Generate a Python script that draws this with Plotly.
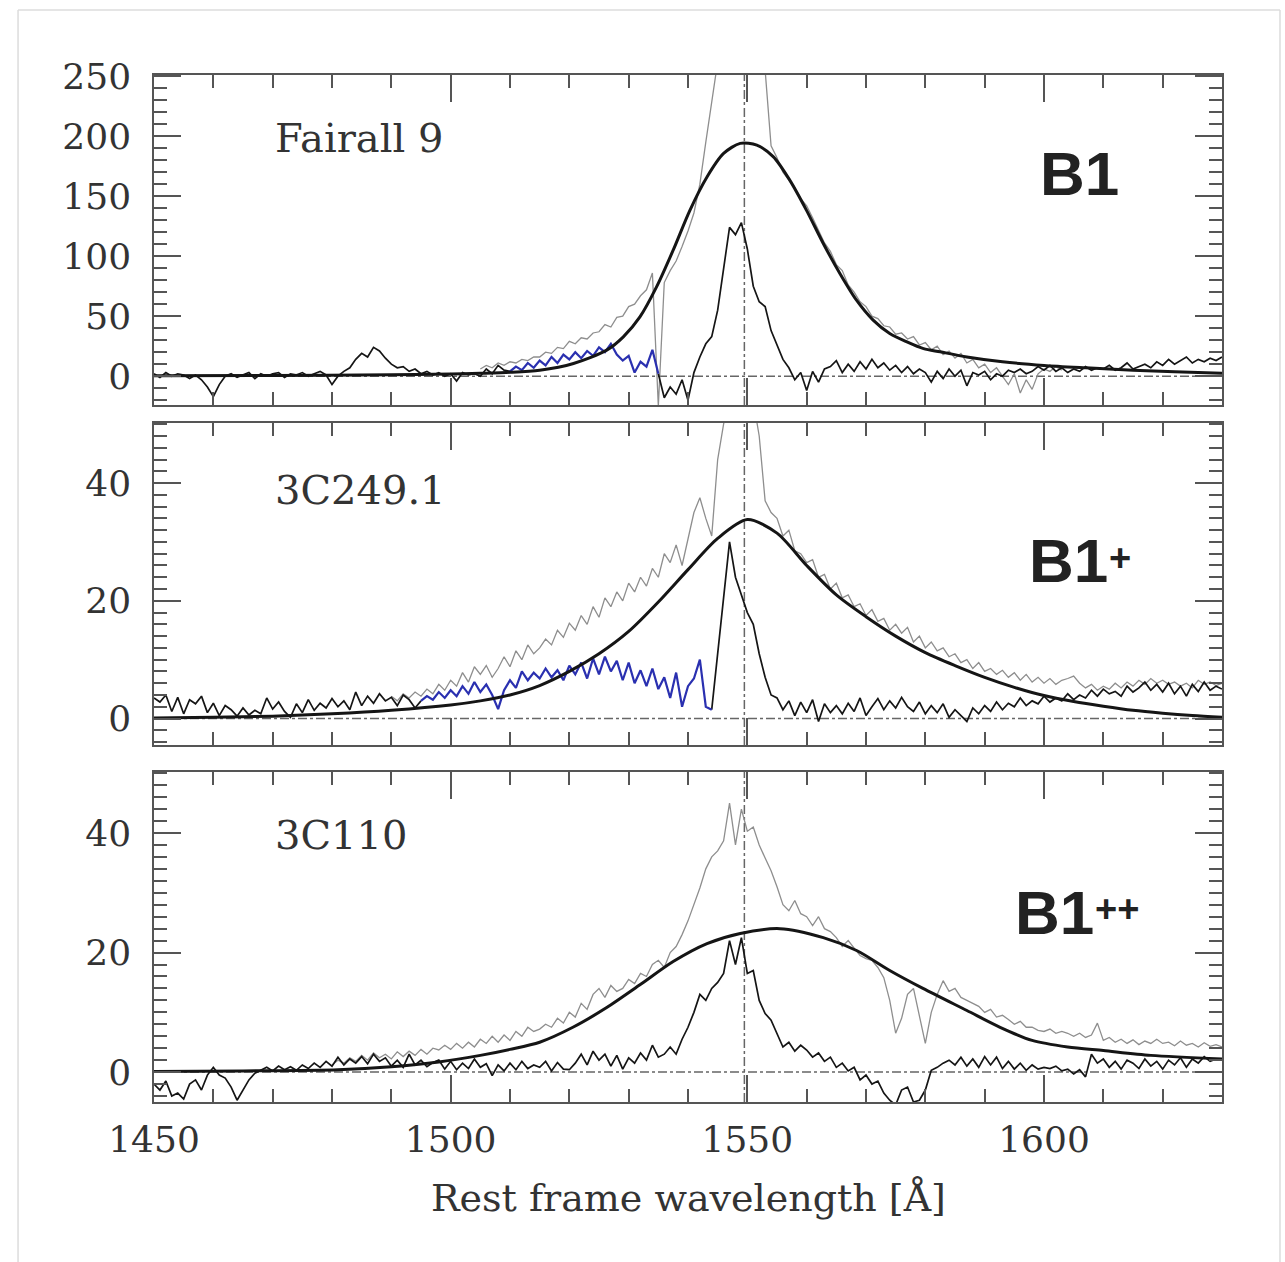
import plotly.graph_objects as go

# ---------------- DATA ----------------
# Panel 1 : Fairall 9  (1-Angstrom grid, start wavelength given)
P1_RES_A_START = 1450
P1_RES_A = [2, -1, 3, 0, 2, 1, -2, 1, -3, -9,          # 1450
            -17, -7, 0, 2, -1, 1, 3, -2, 2, 0,         # 1460
            2, 3, -1, 2, 1, 3, 0, 2, 4, 1,             # 1470
            -7, 0, 4, 7, 14, 19, 16, 24, 21, 15,       # 1480
            10, 7, 8, 4, 6, 2, 4, 1, 3, 0,             # 1490
            2, -4, 3, 1, 2, 0, 6, 2, 9, 5,             # 1500
            4]                                         # 1510
P1_BLUE_START = 1510
P1_BLUE = [4, 8, 5, 11, 7, 13, 9, 16, 11, 18,          # 1510
           14, 20, 15, 21, 17, 24, 20, 27, 18, 13,     # 1520
           17, 3, 12, 8, 22, 2]                        # 1530
P1_RES_B_START = 1535
P1_RES_B = [2, -18, -9, -15, -3, -20, 3, 16, 27, 33,   # 1535
            55, 90, 124, 118, 128, 106, 75, 62, 58, 38,  # 1545
            26, 14, 7, -3, 3, -12, 4, -5, 6, 8,        # 1555
            13, 3, 10, 4, 12, 6, 14, 7, 11, 5,         # 1565
            9, 3, 8, 2, 6, 3, -5, 4, -2, 6,            # 1575
            0, 5, -8, 3, 1, 4, -3, 2, 0, 5,            # 1585
            3, 6, 2, 4, 8, 5, 9, 4, 7, 3,              # 1595
            6, 4, 8, 5, 7, 6, 9, 5, 7, 11,             # 1605
            6, 8, 10, 7, 12, 9, 14, 10, 13, 16,        # 1615
            11, 14, 12, 15, 13, 16]                    # 1625
P1_GRAY_START = 1505
P1_GRAY = [6, 9, 7, 11, 9, 12, 11, 14, 13, 16,         # 1505
           16, 20, 19, 24, 23, 29, 27, 32, 31, 36,     # 1515
           37, 43, 41, 49, 50, 58, 60, 67, 72, 86,     # 1525
           -25, 78, 88, 96, 108, 121, 136, 160, 195, 226,  # 1535
           262, 300, 320, 310, 330, 315, 300, 278, 255, 192,  # 1545
           182, 170, 163, 157, 148, 142, 132, 122, 111, 104,  # 1555
           93, 88, 76, 70, 62, 58, 50, 48, 42, 41,     # 1565
           35, 36, 31, 33, 26, 28, 22, 25, 18, 21,     # 1575
           15, 19, 11, 14, 7, 10, 3, 7, 0, -7,         # 1585
           2, -14, -3, -11, 2, 6, 4, 8, 5]             # 1595
P1_FIT_WL = [1450, 1470, 1490, 1500, 1505, 1510, 1515, 1520.7, 1526.3, 1529.1,
             1531.9, 1534.7, 1537.5, 1540.3, 1543.2, 1546.0, 1548.8, 1551.6, 1554.4, 1557.2,
             1560.0, 1562.8, 1565.6, 1568.4, 1571.2, 1574.0, 1576.9, 1579.7, 1582.5, 1587,
             1593, 1600, 1607, 1615, 1622, 1630]
P1_FIT = [0.3, 0.6, 1.2, 1.8, 2.4, 3.2, 5.0, 10.6, 21.7, 32.8,
          49.4, 74.4, 105, 138, 166, 185.6, 194, 192.5, 182.8, 163,
          138, 110.6, 85.6, 63.3, 46.7, 35.6, 28.6, 23, 20.3, 16,
          12, 9, 7, 5, 3.6, 2.5]

# Panel 2 : 3C249.1
P2_RES_A_START = 1450
P2_RES_A = [3.5, 2.8, 4.0, 1.2, 3.6, 0.8, 3.2, 2.5, 3.8, 1.0,   # 1450
            2.6, 0.5, 2.2, 1.5, 0.4, 1.8, 0.6, 1.4, 0.8, 3.5,   # 1460
            1.6, 2.8, 1.2, 0.2, 2.5, 1.0, 3.2, 1.4, 2.6, 1.8,   # 1470
            3.4, 2.0, 3.0, 1.5, 4.5, 2.2, 3.8, 2.6, 4.2, 3.0,   # 1480
            3.6, 2.2, 4.0, 3.2, 1.8, 3.0]                       # 1490
P2_BLUE_START = 1495
P2_BLUE = [3.0, 3.8, 3.2, 4.5, 3.5, 4.8, 3.8, 5.5, 4.2, 6.2,    # 1495
           4.5, 5.8, 4.0, 1.6, 4.8, 6.5, 5.2, 8.0, 6.5, 7.8,    # 1505
           6.8, 8.5, 7.0, 8.2, 6.5, 9.0, 7.5, 9.5, 6.8, 10.2,   # 1515
           7.5, 10.5, 8.0, 9.8, 6.5, 9.5, 6.0, 8.2, 5.5, 8.5,   # 1525
           5.0, 7.0, 3.5, 7.8, 2.0, 5.5, 6.8, 10.0, 2.0, 1.5]   # 1535
P2_RES_B_START = 1544
P2_RES_B = [1.5, 11, 20, 30, 24, 21, 18, 16, 11, 7,             # 1544
            4.0, 3.5, 1.5, 3.0, 0.5, 2.8, 1.0, 3.2, -0.5, 2.5,  # 1554
            1.0, 2.2, 0.8, 2.6, 1.2, 3.5, 0.5, 2.0, 3.4, 1.5,   # 1564
            3.0, 1.8, 3.6, 2.0, 1.2, 2.8, 0.8, 2.2, 1.0, 2.5,   # 1574
            0.2, 1.5, 0.5, -0.5, 1.8, 0.8, 2.2, 1.2, 2.8, 1.5,  # 1584
            2.6, 2.0, 3.5, 2.2, 3.0, 2.5, 3.8, 2.8, 3.5, 3.0,   # 1594
            4.2, 3.2, 4.0, 3.5, 4.8, 3.8, 5.0, 4.2, 4.6, 3.8,   # 1604
            5.5, 4.5, 5.2, 6.2, 4.8, 5.8, 4.5, 6.0, 4.2, 5.5,   # 1614
            3.8, 5.8, 4.6, 6.2, 4.8, 5.5, 5.0]                  # 1624
P2_GRAY_START = 1490
P2_GRAY = [3.8, 3.0, 4.2, 3.5, 4.5, 3.8, 5.0, 4.2, 5.8, 4.8,    # 1490
           6.5, 5.5, 7.8, 6.2, 8.8, 7.5, 9.0, 7.0, 8.5, 10.5,   # 1500
           8.8, 11.5, 10.0, 12.5, 11.0, 12.0, 13.5, 12.5, 15.0, 13.8,  # 1510
           16.2, 15.0, 17.5, 16.0, 19.0, 17.2, 20.5, 19.0, 21.5, 20.0,  # 1520
           23.0, 21.5, 24.0, 22.5, 25.5, 24.0, 28.0, 26.5, 29.5, 26.0,  # 1530
           30.5, 35.0, 37.5, 34.0, 31.0, 44.0, 50.0, 56.0, 60.0, 62.0,  # 1540
           58.0, 54.0, 48.0, 37.0, 35.0, 34.0, 31.0, 32.0, 28.5, 28.0,  # 1550
           26.5, 27.0, 24.0, 24.5, 22.0, 23.0, 20.5, 21.0, 19.0, 19.5,  # 1560
           17.5, 18.5, 16.5, 17.0, 15.0, 16.0, 14.5, 15.5, 13.0, 14.0,  # 1570
           12.0, 13.0, 11.5, 12.0, 10.5, 11.0, 9.5, 10.0, 8.5, 9.5,     # 1580
           8.0, 8.5, 7.5, 8.2, 7.0, 7.8, 6.5, 7.5, 6.2, 7.0,            # 1590
           6.0, 6.8, 5.8, 6.5, 6.8, 7.2, 6.0, 5.2, 5.8, 4.8,            # 1600
           5.5, 5.0, 6.0, 5.2, 6.2, 5.5, 6.5, 5.8, 6.8, 6.0,            # 1610
           6.5, 5.8, 6.2, 5.5, 6.0, 5.2, 6.5, 5.8, 6.2, 5.6, 6.0]       # 1620
P2_FIT_WL = [1450, 1460, 1470, 1480, 1490, 1500, 1505, 1510, 1515, 1520,
             1525, 1530, 1535, 1540, 1545, 1550, 1555, 1560, 1565, 1570,
             1575, 1580, 1585, 1590, 1595, 1600, 1605, 1610, 1615, 1620,
             1625, 1630]
P2_FIT = [0.1, 0.2, 0.4, 0.8, 1.4, 2.3, 3.0, 4.0, 5.6, 8.0,
          11.0, 14.8, 19.8, 25.3, 30.6, 33.8, 31.5, 26.0, 21.0, 17.3,
          14.0, 11.2, 9.0, 7.0, 5.3, 3.9, 2.9, 2.1, 1.4, 0.9,
          0.5, 0.2]

# Panel 3 : 3C110
P3_RES_START = 1450
P3_RES = [-2.0, -3.0, -1.5, -4.0, -3.5, -4.5, -2.0, -1.3, -3.0, -0.5,  # 1450
          0.8, -0.5, -1.0, -2.5, -4.7, -3.0, -1.3, -0.2, 0.3, 0.8,     # 1460
          0.2, 1.0, 0.4, 0.9, 0.3, 1.2, 0.6, 1.5, 0.8, 1.8,            # 1470
          1.0, 2.5, 1.2, 2.2, 1.5, 2.6, 1.4, 3.0, 1.8, 2.4,            # 1480
          1.0, 2.0, 0.8, 3.0, 1.2, 2.0, 0.9, 1.6, 2.0, 0.5,            # 1490
          1.8, 0.4, 1.5, 0.6, 2.2, 0.8, 1.4, -0.6, 1.2, 0.2,           # 1500
          1.5, 0.4, 1.8, 0.6, 1.2, 0.8, 1.8, 0.2, 1.6, 0.5,            # 1510
          0.4, 1.5, 3.0, 1.2, 3.5, 2.0, 3.0, 1.0, 2.8, 0.5,            # 1520
          2.4, 1.5, 3.2, 2.0, 4.5, 2.5, 3.0, 4.2, 3.0, 5.5,            # 1530
          7.5, 10.0, 13.0, 12.0, 14.0, 15.0, 16.5, 22.0, 18.0, 22.5,   # 1540
          16.5, 17.0, 12.0, 9.8, 8.7, 6.5, 4.2, 5.0, 3.5, 4.5,         # 1550
          3.7, 2.5, 3.2, 1.8, 2.5, 0.8, 1.5, 0.2, 0.8, -1.3,           # 1560
          -0.5, -2.0, -1.5, -3.5, -4.7, -5.5, -3.0, -2.5, -5.0, -4.7,  # 1570
          -3.0, 0.3, 0.8, 1.5, 2.0, 1.2, 2.5, 1.0, 2.2, 0.8,           # 1580
          2.6, 1.2, 2.5, 0.6, 1.8, 0.5, 1.5, 0.3, 1.2, 0.5,            # 1590
          0.8, 0.6, 1.0, 0.2, 0.5, -0.3, 0.4, -0.8, 3.0, 1.5,          # 1600
          2.2, 0.8, 1.8, 0.5, 2.0, 1.5, 0.6, 2.2, 1.0, 1.8,            # 1610
          0.5, 2.0, 1.2, 2.4, 0.8, 2.2, 1.5, 2.6, 1.8, 2.2, 2.0]       # 1620
P3_GRAY_START = 1480
P3_GRAY = [1.2, 2.0, 1.5, 2.4, 1.8, 2.8, 2.0, 3.2, 2.4, 3.0,   # 1480
           2.2, 3.4, 2.6, 3.5, 2.8, 3.8, 3.0, 4.0, 3.7, 4.5,   # 1490
           3.8, 4.8, 4.0, 5.0, 4.2, 5.5, 4.8, 6.0, 5.0, 6.2,   # 1500
           5.3, 6.8, 6.0, 7.5, 6.8, 7.2, 8.0, 7.5, 9.0, 8.2,   # 1510
           10.0, 9.2, 11.5, 10.5, 13.0, 14.0, 12.5, 14.5, 13.5, 14.0,  # 1520
           15.5, 14.8, 16.5, 16.0, 18.0, 18.7, 17.5, 20.0, 21.0, 23.0,  # 1530
           25.3, 28.0, 30.8, 34.0, 36.0, 37.0, 38.7, 45.0, 38.0, 44.0,  # 1540
           40.3, 41.0, 38.0, 35.8, 33.7, 31.0, 28.0, 27.0, 28.7, 26.5,  # 1550
           26.0, 24.5, 26.0, 24.0, 23.5, 22.5, 21.0, 22.0, 20.8, 19.5,  # 1560
           19.0, 18.7, 17.5, 15.8, 12.0, 6.5, 9.0, 13.0, 14.0, 9.5,     # 1570
           4.8, 10.0, 13.0, 15.3, 13.5, 14.0, 12.5, 12.0, 11.5, 11.0,   # 1580
           10.0, 10.5, 9.2, 9.5, 8.8, 8.0, 8.5, 7.5, 7.5, 7.0,          # 1590
           6.8, 7.2, 6.5, 6.8, 6.5, 6.0, 6.5, 5.8, 6.2, 8.2,            # 1600
           5.3, 5.8, 5.0, 5.5, 4.8, 5.4, 4.6, 5.2, 4.8, 5.5,            # 1610
           4.8, 5.0, 4.4, 5.2, 4.5, 4.8, 4.2, 4.9, 4.3, 4.6, 4.2]       # 1620
P3_FIT_WL = [1450, 1465, 1481, 1490, 1498, 1505, 1510, 1515, 1520.6, 1526.3,
             1531.9, 1537.5, 1543.2, 1548.8, 1555.5, 1562.8, 1568.5, 1574.0, 1579.6, 1587.0,
             1592.6, 1598.0, 1604.0, 1610.0, 1618.0, 1630.0]
P3_FIT = [0.1, 0.2, 0.4, 0.9, 1.7, 2.8, 3.8, 5.0, 7.5, 10.8,
          14.6, 18.5, 21.5, 23.2, 24.0, 22.5, 20.3, 17.0, 14.0, 10.3,
          7.5, 5.3, 4.2, 3.6, 2.8, 2.2]

LINE_CENTER = 1549.5
PANEL_NAMES = ["Fairall 9", "3C249.1", "3C110"]
PANEL_CLASSES = ["B1", "B1", "B1"]
PANEL_SUPS = ["", "+", "++"]
X_TICKS = [1450, 1500, 1550, 1600]
X_TITLE = "Rest frame wavelength [Å]"

# ---------------- STYLE ----------------
GRAY = "#8e8e8e"
BLACK = "#151515"
BLUE = "#2a30b0"
AXC = "#555555"
SERIF = "DejaVu Serif"


def wl(start, vals):
    return [start + i for i in range(len(vals))]


fig = go.Figure()


def add(xs, ys, ax, color, width, shape="linear"):
    fig.add_trace(go.Scatter(x=xs, y=ys, mode="lines", xaxis="x" + ax, yaxis="y" + ax,
                             line=dict(color=color, width=width, shape=shape,
                                       smoothing=0.8 if shape == "spline" else None),
                             hoverinfo="skip", showlegend=False))


# panel 1
add(wl(P1_GRAY_START, P1_GRAY), P1_GRAY, "", GRAY, 1.3)
add(wl(P1_RES_A_START, P1_RES_A), P1_RES_A, "", BLACK, 1.7)
add(wl(P1_RES_B_START, P1_RES_B), P1_RES_B, "", BLACK, 1.7)
add(wl(P1_BLUE_START, P1_BLUE), P1_BLUE, "", BLUE, 2.2)
add(P1_FIT_WL, P1_FIT, "", BLACK, 3, "spline")
# panel 2
add(wl(P2_GRAY_START, P2_GRAY), P2_GRAY, "2", GRAY, 1.3)
add(wl(P2_RES_A_START, P2_RES_A), P2_RES_A, "2", BLACK, 1.7)
add(wl(P2_RES_B_START, P2_RES_B), P2_RES_B, "2", BLACK, 1.7)
add(wl(P2_BLUE_START, P2_BLUE), P2_BLUE, "2", BLUE, 2.2)
add(P2_FIT_WL, P2_FIT, "2", BLACK, 3, "spline")
# panel 3
add(wl(P3_GRAY_START, P3_GRAY), P3_GRAY, "3", GRAY, 1.3)
add(wl(P3_RES_START, P3_RES), P3_RES, "3", BLACK, 1.7)
add(P3_FIT_WL, P3_FIT, "3", BLACK, 3, "spline")

tickfont = dict(family=SERIF, size=36, color="#333")
common = dict(showline=True, linecolor=AXC, linewidth=1.5, mirror="allticks",
              ticks="inside", tickcolor=AXC, tickwidth=1.5, showgrid=False,
              zeroline=False, tickfont=tickfont)

xbase = dict(common, range=[1450, 1630], tickmode="array", tickvals=X_TICKS, ticklen=27,
             minor=dict(dtick=10, tick0=1450, ticklen=13, ticks="inside",
                        tickcolor=AXC, tickwidth=1.5, showgrid=False),
             ticklabelstandoff=5)

domains = [[0.6787, 1.0], [0.3476, 0.6611], [0.0, 0.3213]]
yranges = [[-24, 251], [-4.5, 50.2], [-5, 50.2]]
ydt = [(50, 10), (20, 2), (20, 2)]

layout = dict(
    width=1285, height=1262,
    margin=dict(l=154, r=63, t=75, b=160),
    paper_bgcolor="white", plot_bgcolor="white",
    showlegend=False,
)
for i, suf in enumerate(["", "2", "3"]):
    layout["xaxis" + suf] = dict(xbase, anchor="y" + suf, domain=[0, 1],
                                 showticklabels=(i == 2),
                                 **({} if i == 0 else {"matches": "x"}))
    layout["yaxis" + suf] = dict(common, anchor="x" + suf, domain=domains[i],
                                 range=yranges[i], tick0=0, dtick=ydt[i][0], ticklen=27,
                                 minor=dict(dtick=ydt[i][1], tick0=0, ticklen=13,
                                            ticks="inside", tickcolor=AXC,
                                            tickwidth=1.5, showgrid=False),
                                 ticklabelstandoff=14)
fig.update_layout(**layout)

shapes = []
for suf in ["", "2", "3"]:
    shapes.append(dict(type="line", xref="x" + suf, yref="y" + suf, x0=1450, x1=1630,
                       y0=0, y1=0, line=dict(color="#666", width=1.5, dash="dashdot"),
                       layer="below"))
    shapes.append(dict(type="line", xref="x" + suf, yref="y" + suf + " domain",
                       x0=LINE_CENTER, x1=LINE_CENTER, y0=0, y1=1,
                       line=dict(color="#666", width=1.5, dash="dashdot"), layer="below"))
# faint outer frame of the original picture
for (x0, y0, x1, y1) in [(-0.1273, 1.0633, 1.0543, 1.0633),
                         (-0.1273, -0.1558, -0.1273, 1.0633),
                         (1.0543, -0.1558, 1.0543, 1.0633)]:
    shapes.append(dict(type="line", xref="paper", yref="paper", x0=x0, y0=y0, x1=x1, y1=y1,
                       line=dict(color="#dcdcdc", width=1.5)))
fig.update_layout(shapes=shapes)

ann = []
name_y = [0.809, 0.792, 0.809]
cls_y = [0.7015, 0.5745, 0.574]
cls_x = [1599.0, 1597.1, 1594.8]
sup_x = [None, 1610.6, 1608.3]
sup_y = [None, 0.5823, 0.5848]
for i, suf in enumerate(["", "2", "3"]):
    ann.append(dict(text=PANEL_NAMES[i], xref="x" + suf, yref="y" + suf + " domain",
                    x=1470.1, y=name_y[i], xanchor="left", yanchor="middle",
                    showarrow=False, font=dict(family=SERIF, size=40, color="#333")))
    ann.append(dict(text="<b>" + PANEL_CLASSES[i] + "</b>", xref="x" + suf,
                    yref="y" + suf + " domain", x=cls_x[i], y=cls_y[i],
                    xanchor="left", yanchor="middle", showarrow=False,
                    font=dict(family="Liberation Sans", size=62, color="#222")))
    if PANEL_SUPS[i]:
        ann.append(dict(text="<b>" + PANEL_SUPS[i] + "</b>", xref="x" + suf,
                        yref="y" + suf + " domain", x=sup_x[i], y=sup_y[i],
                        xanchor="left", yanchor="middle", showarrow=False,
                        font=dict(family="Liberation Sans", size=38, color="#222")))
ann.append(dict(text=X_TITLE, xref="paper", yref="paper", x=0.5, y=-0.0935,
                xanchor="center", yanchor="middle", showarrow=False,
                font=dict(family=SERIF, size=38, color="#333")))
fig.update_layout(annotations=ann)

fig.write_html("out.html")
